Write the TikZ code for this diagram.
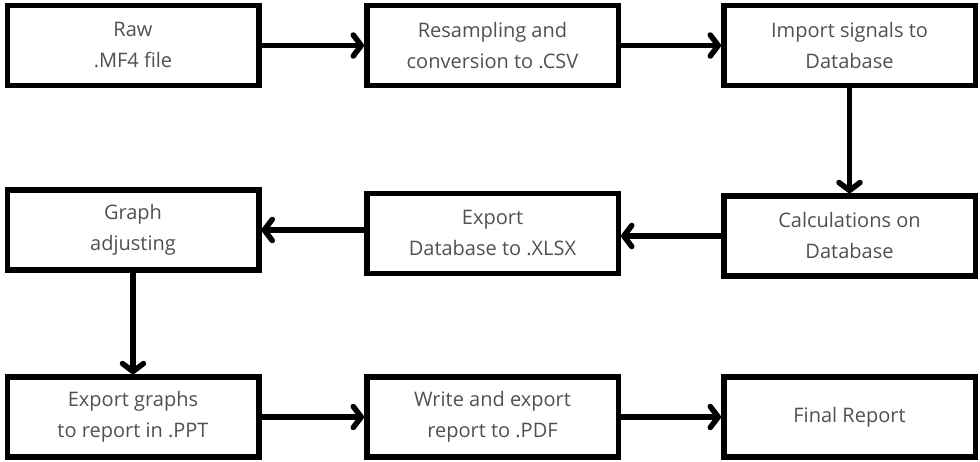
\documentclass[tikz,border=0pt]{standalone}
\usepackage{fontspec}
\setmainfont{Open Sans}
\usetikzlibrary{arrows.meta}
\definecolor{txt}{HTML}{505050}
\begin{document}
\begin{tikzpicture}[x=1pt,y=-1pt,
  stage/.style={draw=black, line width=5.5pt, minimum width=251.5pt,
    minimum height=80pt, inner sep=0pt, align=center, text=txt,
    font=\fontsize{20}{31}\selectfont},
  flow/.style={line width=5.5pt, -{Straight Barb[length=8pt,width=21pt,round]}}]
\useasboundingbox (0,0) rectangle (980,462);

% first row
\node[stage] (raw)  at (133,45.5)   {Raw\\.MF4 file};
\node[stage] (csv)  at (492.5,45.5) {Resampling and\\conversion to .CSV};
\node[stage] (imp)  at (849.5,45.5) {Import signals to\\Database};
% second row
\node[stage] (graph) at (133,230)   {Graph\\adjusting};
\node[stage] (xlsx)  at (492.5,233.5) {Export\\Database to .XLSX};
\node[stage] (calc)  at (849.5,236) {Calculations on\\Database};
% third row
\node[stage] (ppt)   at (133,417)   {Export graphs\\to report in .PPT};
\node[stage] (pdf)   at (492.5,417) {Write and export\\report to .PDF};
\node[stage] (final) at (849.5,417) {Final Report};

% connectors
\draw[flow] (raw.east) -- (csv.west);
\draw[flow] (csv.east) -- (imp.west);
\draw[flow] (imp.south) -- (calc.north);
\draw[flow] (calc.west) -- (xlsx.east |- calc.west);
\draw[flow] (xlsx.west |- graph.east) -- (graph.east);
\draw[flow] (graph.south) -- (ppt.north);
\draw[flow] (ppt.east) -- (pdf.west);
\draw[flow] (pdf.east) -- (final.west);
\end{tikzpicture}
\end{document}
